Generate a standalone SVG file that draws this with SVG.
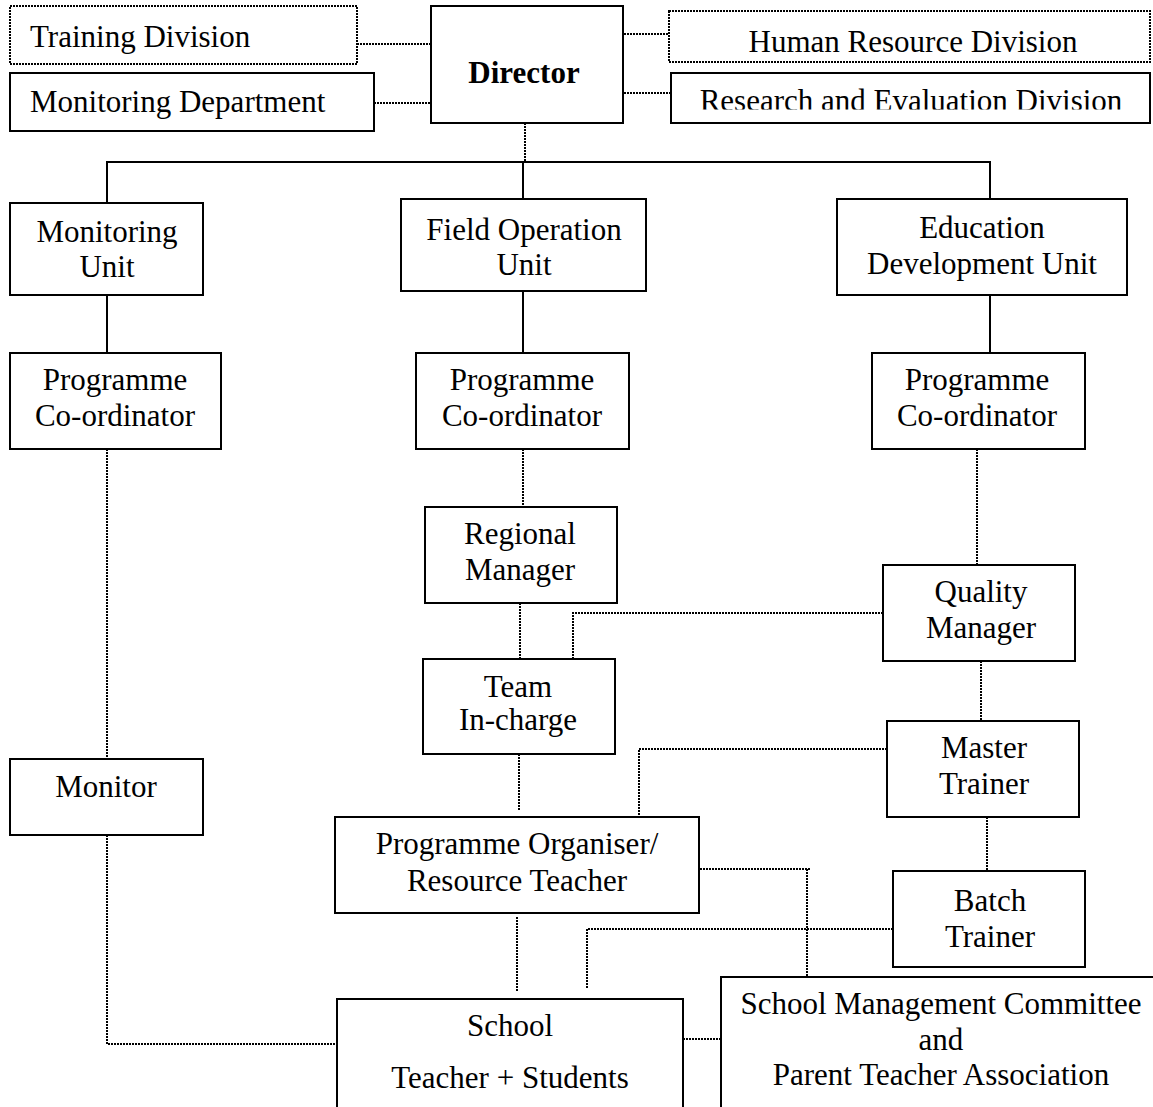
<svg xmlns="http://www.w3.org/2000/svg" width="1153" height="1107" viewBox="0 0 1153 1107">
<style>
.box{fill:#fff;stroke:#000;stroke-width:2}
.dbox{fill:#fff;stroke:#000;stroke-width:2;stroke-dasharray:2 1}
.open{fill:none;stroke:#000;stroke-width:2}
.t{font-family:"Liberation Serif","Times New Roman",serif;font-size:31px;fill:#000;text-anchor:middle}
.tl{text-anchor:start}
.b{font-weight:bold}
.solid{fill:none;stroke:#000;stroke-width:2}
.dot{fill:none;stroke:#000;stroke-width:2;stroke-dasharray:2 1}
</style>
<defs>
<clipPath id="reClip"><rect x="671" y="73" width="479" height="36.5"/></clipPath>
</defs>
<rect width="1153" height="1107" fill="#fff"/>
<g id="connectors">
<path class="dot" d="M357 44H431M374 103H433M621 34H676M621 93H676M525 123V161"/>
<path class="solid" d="M107 203V162H990V199M523 162V199M107 295V353M523 291V353M990 295V353"/>
<path class="dot" d="M107 449V759M107 835V1044H337"/>
<path class="dot" d="M523 449V507M520 603V659M519 754V811"/>
<path class="dot" d="M977 449V565M981 661V721M987 817V871"/>
<path class="dot" d="M883 613H573V671"/>
<path class="dot" d="M887 749H639V823"/>
<path class="dot" d="M893 929H587V989"/>
<path class="dot" d="M697 869H810M807 869V983"/>
<path class="dot" d="M517 917V992"/>
<path class="dot" d="M683 1039H721"/>
</g>
<g id="training-division">
<rect class="dbox" x="10" y="6" width="347" height="58"/>
<text class="t tl" x="30" y="47">Training Division</text>
</g>
<g id="monitoring-department">
<rect class="box" x="10" y="73" width="364" height="58"/>
<text class="t tl" x="30" y="112">Monitoring Department</text>
</g>
<g id="director">
<rect class="box" x="431" y="6" width="192" height="117"/>
<text class="t b" x="524" y="83">Director</text>
</g>
<g id="human-resource-division">
<rect class="dbox" x="669" y="11" width="481" height="51"/>
<text class="t" x="913" y="52">Human Resource Division</text>
</g>
<g id="research-evaluation-division">
<rect class="box" x="671" y="73" width="479" height="50"/>
<text class="t" x="911" y="111" clip-path="url(#reClip)">Research and Evaluation Division</text>
</g>
<g id="monitoring-unit">
<rect class="box" x="10" y="203" width="193" height="92"/>
<text class="t" x="107" y="242">Monitoring</text>
<text class="t" x="107" y="277">Unit</text>
</g>
<g id="field-operation-unit">
<rect class="box" x="401" y="199" width="245" height="92"/>
<text class="t" x="524" y="240">Field Operation</text>
<text class="t" x="524" y="275">Unit</text>
</g>
<g id="education-development-unit">
<rect class="box" x="837" y="199" width="290" height="96"/>
<text class="t" x="982" y="238">Education</text>
<text class="t" x="982" y="274">Development Unit</text>
</g>
<g id="pc-monitoring">
<rect class="box" x="10" y="353" width="211" height="96"/>
<text class="t" x="115" y="390">Programme</text>
<text class="t" x="115" y="426">Co-ordinator</text>
</g>
<g id="pc-field">
<rect class="box" x="416" y="353" width="213" height="96"/>
<text class="t" x="522" y="390">Programme</text>
<text class="t" x="522" y="426">Co-ordinator</text>
</g>
<g id="pc-education">
<rect class="box" x="872" y="353" width="213" height="96"/>
<text class="t" x="977" y="390">Programme</text>
<text class="t" x="977" y="426">Co-ordinator</text>
</g>
<g id="regional-manager">
<rect class="box" x="425" y="507" width="192" height="96"/>
<text class="t" x="520" y="544">Regional</text>
<text class="t" x="520" y="580">Manager</text>
</g>
<g id="quality-manager">
<rect class="box" x="883" y="565" width="192" height="96"/>
<text class="t" x="981" y="602">Quality</text>
<text class="t" x="981" y="638">Manager</text>
</g>
<g id="team-in-charge">
<rect class="box" x="423" y="659" width="192" height="95"/>
<text class="t" x="518" y="697">Team</text>
<text class="t" x="518" y="730">In-charge</text>
</g>
<g id="master-trainer">
<rect class="box" x="887" y="721" width="192" height="96"/>
<text class="t" x="984" y="758">Master</text>
<text class="t" x="984" y="794">Trainer</text>
</g>
<g id="monitor">
<rect class="box" x="10" y="759" width="193" height="76"/>
<text class="t" x="106" y="797">Monitor</text>
</g>
<g id="programme-organiser">
<rect class="box" x="335" y="817" width="364" height="96"/>
<text class="t" x="517" y="854">Programme Organiser/</text>
<text class="t" x="517" y="891">Resource Teacher</text>
</g>
<g id="batch-trainer">
<rect class="box" x="893" y="871" width="192" height="96"/>
<text class="t" x="990" y="911">Batch</text>
<text class="t" x="990" y="947">Trainer</text>
</g>
<g id="school">
<rect x="337" y="999" width="346" height="108" fill="#fff"/>
<path class="open" d="M337 1107V999H683V1107"/>
<text class="t" x="510" y="1036">School</text>
<text class="t" x="510" y="1088">Teacher + Students</text>
</g>
<g id="smc-pta">
<rect x="721" y="977" width="432" height="130" fill="#fff"/>
<path class="open" d="M721 1107V977H1153"/>
<text class="t" x="941" y="1014">School Management Committee</text>
<text class="t" x="941" y="1050">and</text>
<text class="t" x="941" y="1085">Parent Teacher Association</text>
</g>
</svg>
